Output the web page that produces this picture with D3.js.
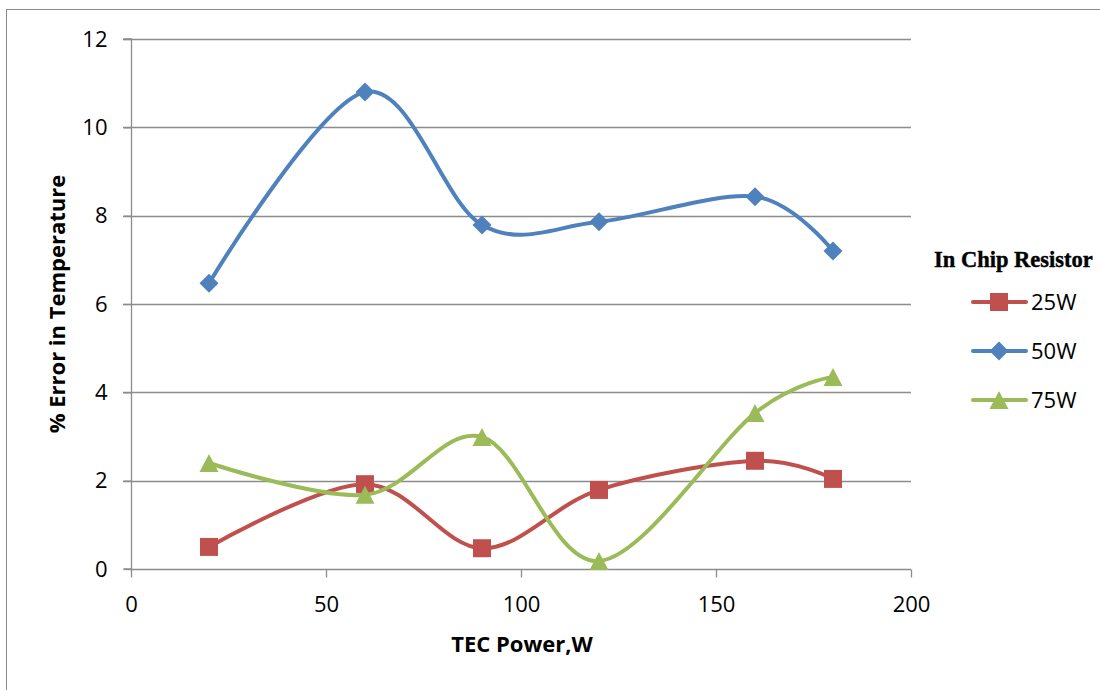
<!DOCTYPE html>
<html>
<head>
<meta charset="utf-8">
<script src="https://cdn.jsdelivr.net/npm/d3@7"></script>
<style>
  html, body { margin: 0; padding: 0; background: #fff; }
  svg { display: block; }
</style>
</head>
<body>
<svg id="chart" width="1100" height="690"></svg>
<script>
// TEC power levels (W) on the x axis
const tecPower = [20, 60, 90, 120, 160, 180];

// % error in temperature per chip-resistor load
const err25W = [0.50, 1.92, 0.47, 1.79, 2.45, 2.04];
const err50W = [6.47, 10.80, 7.79, 7.86, 8.43, 7.20];
const err75W = [2.40, 1.68, 2.99, 0.18, 3.53, 4.35];

const seriesNames = ["25W", "50W", "75W"];
const xTicks = [0, 50, 100, 150, 200];
const yTicks = [0, 2, 4, 6, 8, 10, 12];

const series = [
  { name: seriesNames[0], values: err25W, color: "#C0504D", marker: "square" },
  { name: seriesNames[1], values: err50W, color: "#4F81BD", marker: "diamond" },
  { name: seriesNames[2], values: err75W, color: "#9BBB59", marker: "triangle" }
];

const svg = d3.select("#chart");
const font = "'Open Sans', 'Noto Sans', sans-serif";
const gridColor = "#8c8c8c";

// chart-area frame
svg.append("rect")
  .attr("x", 6.5).attr("y", 9.5)
  .attr("width", 1120).attr("height", 700)
  .attr("fill", "none").attr("stroke", "#8a8a8a").attr("stroke-width", 1);

const x = d3.scaleLinear().domain([0, 200]).range([131, 911]);
const y = d3.scaleLinear().domain([0, 12]).range([569, 39]);

// horizontal gridlines with left tick marks
svg.append("g").selectAll("line")
  .data(yTicks.filter(d => d > 0))
  .join("line")
  .attr("x1", 123).attr("x2", x(200))
  .attr("y1", d => Math.round(y(d)) + 0.5).attr("y2", d => Math.round(y(d)) + 0.5)
  .attr("stroke", gridColor).attr("stroke-width", 1.3);

// y axis
const yAxis = svg.append("g")
  .attr("transform", `translate(${x(0) + 0.5},0)`)
  .call(d3.axisLeft(y).tickValues(yTicks).tickSize(8).tickPadding(16).tickFormat(d3.format("d")));
yAxis.select(".domain").attr("stroke", gridColor).attr("stroke-width", 1.3).attr("d", `M-8,${y(0)}H0V${y(12)}H-8`);
yAxis.selectAll(".tick line").attr("stroke", gridColor).attr("stroke-width", 1.3);
yAxis.selectAll(".tick text").attr("font-family", font).attr("font-size", 22).attr("fill", "#000");

// x axis
const xAxis = svg.append("g")
  .attr("transform", `translate(0,${Math.round(y(0)) + 0.5})`)
  .call(d3.axisBottom(x).tickValues(xTicks).tickSize(8).tickPadding(19).tickFormat(d3.format("d")));
xAxis.select(".domain").attr("stroke", gridColor).attr("stroke-width", 1.3).attr("d", `M${x(0)},0H${x(200)}`);
xAxis.selectAll(".tick line").attr("stroke", gridColor).attr("stroke-width", 1.3);
xAxis.selectAll(".tick text").attr("font-family", font).attr("font-size", 22).attr("fill", "#000");

// axis titles
svg.append("text")
  .attr("x", 522).attr("y", 652)
  .attr("text-anchor", "middle")
  .attr("font-family", font).attr("font-size", 22).attr("font-weight", "bold")
  .text("TEC Power,W");

svg.append("text")
  .attr("transform", `translate(65,${(y(0) + y(12)) / 2}) rotate(-90)`)
  .attr("text-anchor", "middle")
  .attr("font-family", font).attr("font-size", 22).attr("font-weight", "bold")
  .text("% Error in Temperature");

// marker shapes
function markerPath(type) {
  if (type === "square") return "M-9,-9H9V9H-9Z";
  if (type === "diamond") return "M0,-9.5L9.5,0L0,9.5L-9.5,0Z";
  return "M0,-9L9.5,9H-9.5Z";
}

const line = d3.line()
  .x((d, i) => x(tecPower[i]))
  .y(d => y(d))
  .curve(d3.curveCardinal.tension(0));

const plot = svg.append("g");
series.forEach(s => {
  plot.append("path")
    .attr("d", line(s.values))
    .attr("fill", "none")
    .attr("stroke", s.color)
    .attr("stroke-width", 4)
    .attr("stroke-linejoin", "round");
  plot.append("g").selectAll("path")
    .data(s.values)
    .join("path")
    .attr("transform", (d, i) => `translate(${x(tecPower[i])},${y(d)})`)
    .attr("d", markerPath(s.marker))
    .attr("fill", s.color);
});

// legend
const legend = svg.append("g");
legend.append("text")
  .attr("x", 934).attr("y", 267)
  .attr("font-family", "'Liberation Serif', 'DejaVu Serif', serif")
  .attr("font-size", 22.5).attr("font-weight", "bold")
  .attr("letter-spacing", 0)
  .attr("stroke", "#000").attr("stroke-width", 0.4)
  .text("In Chip Resistor");

const legendY = [302, 351, 400];
series.forEach((s, i) => {
  const g = legend.append("g").attr("transform", `translate(0,${legendY[i]})`);
  g.append("line")
    .attr("x1", 973).attr("x2", 1026)
    .attr("stroke", s.color).attr("stroke-width", 4).attr("stroke-linecap", "round");
  g.append("path")
    .attr("transform", "translate(999,0)")
    .attr("d", markerPath(s.marker))
    .attr("fill", s.color);
  g.append("text")
    .attr("x", 1031).attr("y", 0).attr("dy", "0.36em")
    .attr("font-family", font).attr("font-size", 22)
    .text(s.name);
});
</script>
</body>
</html>
